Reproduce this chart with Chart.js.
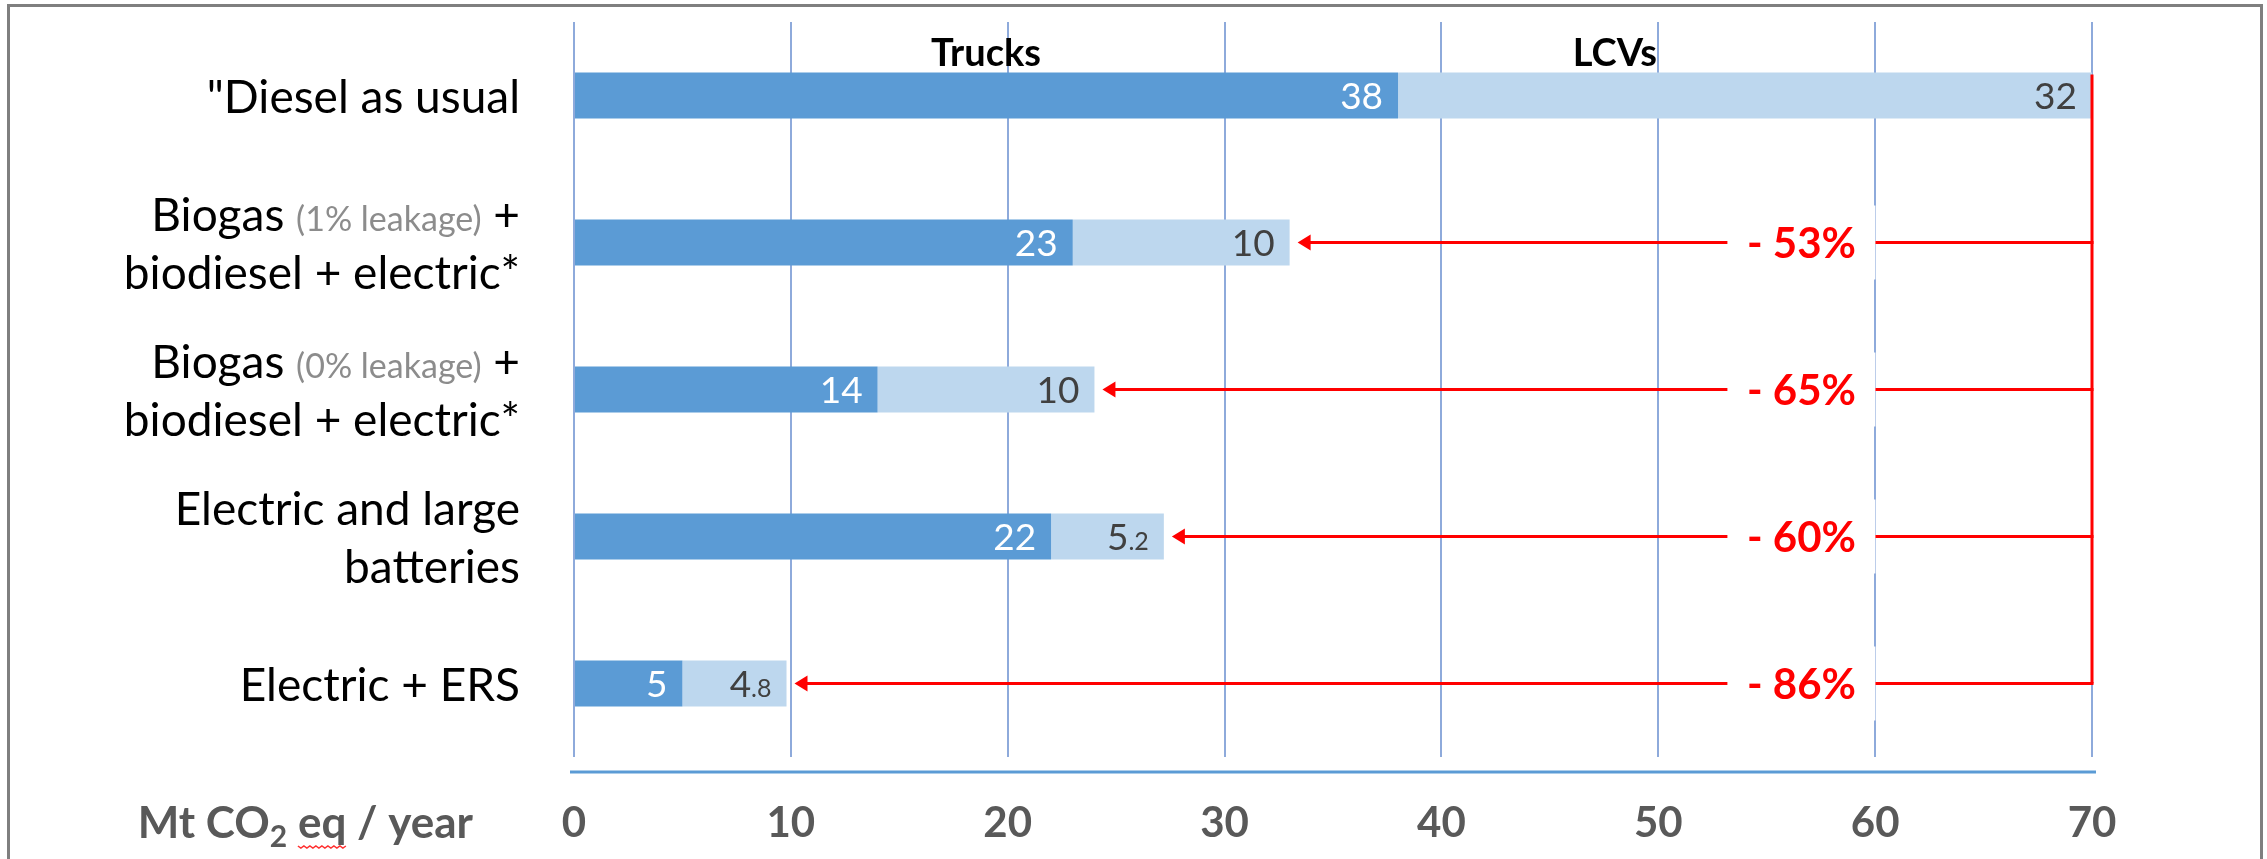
<!DOCTYPE html>
<html>
<head>
<meta charset="utf-8">
<title>Mt CO2 eq / year</title>
<script src="https://cdn.jsdelivr.net/npm/chart.js@4.4.0/dist/chart.umd.min.js"></script>
<style>
  html, body { margin: 0; padding: 0; background: #fff; }
  #wrap { position: relative; width: 2267px; height: 859px; overflow: hidden; }
  #frame { position: absolute; left: 7px; top: 4px; width: 2256px; height: 900px; border: 3px solid #7f7f7f; box-sizing: border-box; pointer-events: none; }
  canvas { position: absolute; left: 0; top: 0; }
</style>
</head>
<body>
<div id="wrap">
  <canvas id="co2Chart" width="2267" height="859"></canvas>
  <div id="frame"></div>
</div>
<script>
// scenarios, top to bottom
const categories = [
  '"Diesel as usual',
  ['Biogas (1% leakage) +', 'biodiesel + electric*'],
  ['Biogas (0% leakage) +', 'biodiesel + electric*'],
  ['Electric and large', 'batteries'],
  'Electric + ERS'
];
const seriesNames = ['Trucks', 'LCVs'];
const trucks = [38, 23, 14, 22, 5];
const lcvs = [32, 10, 10, 5.2, 4.8];
// reduction vs. the diesel case, one per scenario (first row is the reference)
const reductions = [null, '- 53%', '- 65%', '- 60%', '- 86%'];
const xTicks = [0, 10, 20, 30, 40, 50, 60, 70];
const axisTitle = ['Mt CO', '2', ' eq', ' / year'];

const FONT = 'Lato, "Noto Sans", sans-serif';
const headerAt = [19, 48];   // x value where the series names sit
const reductionAt = 56.6;    // x value of the percentage boxes

// draws "5.2" style numbers: whole part big, decimals smaller
function drawValue(ctx, value, right, cy, color) {
  const str = String(value);
  const dot = str.indexOf('.');
  const base = cy + 13;
  ctx.fillStyle = color;
  ctx.textBaseline = 'alphabetic';
  ctx.textAlign = 'right';
  ctx.font = '37px ' + FONT;
  if (dot < 0) {
    ctx.fillText(str, right, base);
    return;
  }
  const head = str.slice(0, dot), tail = str.slice(dot);
  ctx.font = '25px ' + FONT;
  const tw = ctx.measureText(tail).width;
  ctx.fillText(tail, right, base);
  ctx.font = '37px ' + FONT;
  ctx.fillText(head, right - tw, base);
}

// category text on the left, with the "(x% leakage)" bits in grey
const categoryLabels = {
  id: 'categoryLabels',
  afterDraw(chart) {
    const ctx = chart.ctx, y = chart.scales.y;
    ctx.save();
    ctx.textBaseline = 'alphabetic';
    ctx.textAlign = 'left';
    categories.forEach((label, i) => {
      const lines = Array.isArray(label) ? label : [label];
      const cy = y.getPixelForValue(i);
      lines.forEach((line, j) => {
        const ly = cy + (j - (lines.length - 1) / 2) * 58;
        const parts = line.split(/(\([^)]*\))/).filter(p => p.length);
        const styled = parts.map(p => p.startsWith('(')
          ? { text: p, font: '34px ' + FONT, color: '#8c8c8c' }
          : { text: p, font: '46px ' + FONT, color: '#000000' });
        let total = 0;
        styled.forEach(s => { ctx.font = s.font; s.w = ctx.measureText(s.text).width; total += s.w; });
        let x = 520 - total;
        styled.forEach(s => {
          ctx.font = s.font;
          ctx.fillStyle = s.color;
          ctx.fillText(s.text, x, ly + 17);
          x += s.w;
        });
      });
    });
    ctx.restore();
  }
};

// values inside the bar ends, series names, reduction arrows, axis line and title
const overlay = {
  id: 'overlay',
  afterDatasetsDraw(chart) {
    const ctx = chart.ctx, xs = chart.scales.x, ys = chart.scales.y;
    const area = chart.chartArea;
    ctx.save();

    chart.data.datasets.forEach((ds, d) => {
      chart.getDatasetMeta(d).data.forEach((bar, i) => {
        drawValue(ctx, ds.data[i], bar.x - 15, bar.y, ds.labelColor);
      });
    });

    ctx.font = 'bold 38px ' + FONT;
    ctx.fillStyle = '#000000';
    ctx.textAlign = 'center';
    ctx.textBaseline = 'alphabetic';
    seriesNames.forEach((name, k) => {
      ctx.fillText(name, xs.getPixelForValue(headerAt[k]), ys.getPixelForValue(0) - 30);
    });

    // red arrows from the diesel total back to each scenario total
    const first = chart.getDatasetMeta(0).data[0];
    const xRef = xs.getPixelForValue(trucks[0] + lcvs[0]);
    const last = reductions.length - 1;
    ctx.strokeStyle = '#ff0000';
    ctx.fillStyle = '#ff0000';
    ctx.lineWidth = 3;
    ctx.beginPath();
    ctx.moveTo(xRef, first.y - first.height / 2 + 2);
    ctx.lineTo(xRef, ys.getPixelForValue(last));
    ctx.stroke();
    reductions.forEach((txt, i) => {
      if (!txt) return;
      const yy = ys.getPixelForValue(i);
      const tip = xs.getPixelForValue(trucks[i] + lcvs[i]) + 8;
      ctx.beginPath();
      ctx.moveTo(xRef + 1.5, yy);
      ctx.lineTo(tip + 10, yy);
      ctx.stroke();
      ctx.beginPath();
      ctx.moveTo(tip, yy);
      ctx.lineTo(tip + 13, yy - 8);
      ctx.lineTo(tip + 13, yy + 8);
      ctx.closePath();
      ctx.fill();
      const cx = xs.getPixelForValue(reductionAt);
      ctx.fillStyle = '#ffffff';
      ctx.fillRect(cx - 74, yy - 37, 148, 74);
      ctx.fillStyle = '#ff0000';
      ctx.font = 'bold 42px ' + FONT;
      ctx.textAlign = 'center';
      ctx.fillText(txt, cx, yy + 15);
    });

    // axis line sits a little below the grid
    const axisY = area.bottom + 15;
    ctx.strokeStyle = '#5b9bd5';
    ctx.lineWidth = 3;
    ctx.beginPath();
    ctx.moveTo(xs.getPixelForValue(0) - 4, axisY);
    ctx.lineTo(xs.getPixelForValue(70) + 4, axisY);
    ctx.stroke();

    // axis title with subscript 2 and the spell-check squiggle under "eq"
    const big = 'bold 44px ' + FONT, small = 'bold 30px ' + FONT;
    const base = 838;
    const fonts = [big, small, big, big];
    const widths = axisTitle.map((t, k) => { ctx.font = fonts[k]; return ctx.measureText(t).width; });
    let x = 473 - widths.reduce((a, b) => a + b, 0);
    ctx.fillStyle = '#595959';
    ctx.textAlign = 'left';
    axisTitle.forEach((t, k) => {
      ctx.font = fonts[k];
      ctx.fillText(t, x, k === 1 ? base + 9 : base);
      if (k === 2) {
        ctx.font = big;
        const sp = ctx.measureText(' ').width;
        ctx.strokeStyle = '#ff3030';
        ctx.lineWidth = 1.5;
        ctx.beginPath();
        for (let px = x + sp, n = 0; px <= x + widths[k]; px += 3, n++) {
          const py = base + 8 + (n % 2 ? 2 : 0);
          if (n === 0) ctx.moveTo(px, py); else ctx.lineTo(px, py);
        }
        ctx.stroke();
      }
      x += widths[k];
    });

    ctx.restore();
  }
};

const ctx = document.getElementById('co2Chart').getContext('2d');
const co2Chart = new Chart(ctx, {
  type: 'bar',
  data: {
    labels: categories,
    datasets: [
      { label: seriesNames[0], data: trucks, backgroundColor: '#5b9bd5', labelColor: '#ffffff' },
      { label: seriesNames[1], data: lcvs, backgroundColor: '#bdd7ee', labelColor: '#404040' }
    ]
  },
  options: {
    indexAxis: 'y',
    responsive: false,
    animation: false,
    layout: { padding: { left: 574, right: 175, top: 22, bottom: 10 } },
    datasets: { bar: { barPercentage: 0.313, categoryPercentage: 1 } },
    plugins: { legend: { display: false }, tooltip: { enabled: false } },
    scales: {
      x: {
        stacked: true,
        min: 0,
        max: 70,
        afterBuildTicks: scale => { scale.ticks = xTicks.map(v => ({ value: v })); },
        // keep the axis band tight; labels hang below the detached axis line
        afterFit: scale => { scale.height = 92; },
        grid: { color: '#8eaadb', lineWidth: 2, drawTicks: false },
        border: { display: false },
        ticks: { color: '#595959', padding: 41, font: { family: FONT, size: 42, weight: 'bold' } }
      },
      y: { stacked: true, display: false }
    }
  },
  plugins: [categoryLabels, overlay]
});
</script>
</body>
</html>
